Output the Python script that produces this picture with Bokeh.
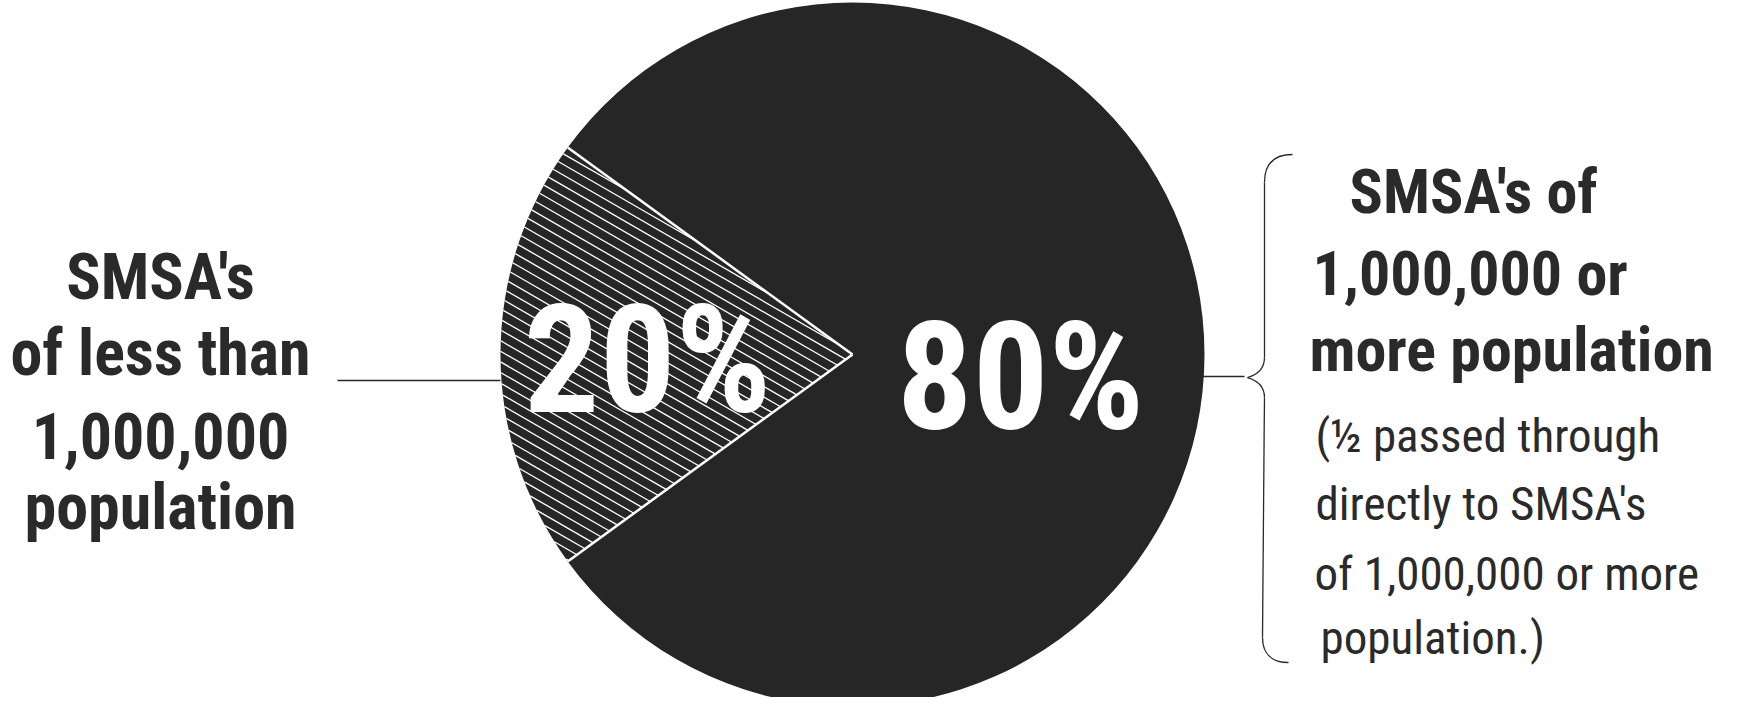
import numpy as np
from bokeh.plotting import figure
from bokeh.models import Range1d, ColumnDataSource
from bokeh.core.properties import value
from bokeh.embed import file_html
from bokeh.resources import INLINE

# ---- data ----
categories = ["SMSA's of less than 1,000,000 population",
              "SMSA's of 1,000,000 or more population"]
shares = [20, 80]
pct_labels = ["20%", "80%"]
left_label = ["SMSA's", "of less than", "1,000,000", "population"]
right_head = ["SMSA's of", "1,000,000 or", "more population"]
right_note = ["(½ passed through", "directly to SMSA's",
              "of 1,000,000 or more", "population.)"]

DARK = "#262626"
INK = "#2a2a2a"
W, H = 1726, 697
BL = 0.26  # baseline correction (fraction of font size)


def X(rx):
    return rx - 8


def Y(ry):
    return H - (ry - 8)


def YB(ry, fs):
    return Y(ry) + BL * fs


p = figure(width=W, height=H, x_range=Range1d(0, W), y_range=Range1d(0, H),
           min_border=0, toolbar_location=None, output_backend="svg",
           x_axis_location=None, y_axis_location=None)
p.grid.visible = False
p.outline_line_color = None

# ---- pie ----
cx, cy, r = X(860), Y(362), 352
vals = np.array(shares, dtype=float)
frac = vals / vals.sum()
offset = np.pi - frac[0] * np.pi
ends = offset + 2 * np.pi * np.cumsum(frac)
starts = ends - 2 * np.pi * frac
src = ColumnDataSource(dict(cat=categories, share=shares,
                            start=starts, end=ends))
p.wedge(x=cx, y=cy, radius=r, start_angle="start", end_angle="end",
        fill_color=DARK, line_color=None, source=src)

# hatch lines inside the small slice
a1, a2 = starts[0], ends[0]
u1 = np.array([np.cos(a1), np.sin(a1)])
u2 = np.array([np.cos(a2), np.sin(a2)])
th = np.deg2rad(-30)
d = np.array([np.cos(th), np.sin(th)])
n = np.array([-np.sin(th), np.cos(th)])


def cross(a, b):
    return a[0] * b[1] - a[1] * b[0]


x0s, y0s, x1s, y1s = [], [], [], []
for s in np.arange(-r + 4, r, 9.2):
    h = np.sqrt(r * r - s * s)
    lo, hi = -h, h
    base = s * n
    for (A, B) in [(cross(u1, base), cross(u1, d)),
                   (cross(base, u2), cross(d, u2))]:
        if abs(B) < 1e-12:
            if A < 0:
                lo, hi = 1, 0
            continue
        t = -A / B
        if B > 0:
            lo = max(lo, t)
        else:
            hi = min(hi, t)
    if hi - lo > 1:
        pa = base + lo * d
        pb = base + hi * d
        x0s.append(cx + pa[0]); y0s.append(cy + pa[1])
        x1s.append(cx + pb[0]); y1s.append(cy + pb[1])
p.segment(x0=x0s, y0=y0s, x1=x1s, y1=y1s, line_color="white",
          line_width=1.3)
p.segment(x0=[cx, cx], y0=[cy, cy],
          x1=[cx + r * u1[0], cx + r * u2[0]],
          y1=[cy + r * u1[1], cy + r * u2[1]],
          line_color="white", line_width=2.5)

# ---- leaders and brace ----
p.segment(x0=[X(345), X(1208)], y0=[Y(388), Y(384)],
          x1=[X(508), X(1252)], y1=[Y(388), Y(384)],
          line_color=INK, line_width=1.3)
bz = dict(
    x0=[1300, 1272, 1272, 1255, 1272, 1270],
    y0=[162, 190, 365, 385, 405, 645],
    x1=[1272, 1272, 1255, 1272, 1270, 1296],
    y1=[190, 365, 385, 405, 645, 670],
    cx0=[1280, 1272, 1272, 1262, 1271, 1270],
    cy0=[162, 250, 378, 387, 500, 660],
    cx1=[1272, 1272, 1262, 1272, 1270, 1278],
    cy1=[172, 300, 383, 392, 600, 670],
)
p.bezier(x0=[X(v) for v in bz["x0"]], y0=[Y(v) for v in bz["y0"]],
         x1=[X(v) for v in bz["x1"]], y1=[Y(v) for v in bz["y1"]],
         cx0=[X(v) for v in bz["cx0"]], cy0=[Y(v) for v in bz["cy0"]],
         cx1=[X(v) for v in bz["cx1"]], cy1=[Y(v) for v in bz["cy1"]],
         line_color=INK, line_width=1.3)

FONT = value("Roboto Condensed")

# percent labels
fs = 150
p.text(x=[X(655), X(1028)], y=[YB(407, fs), YB(424, fs)], text=pct_labels,
       text_font=FONT, text_font_style="bold",
       text_font_size=f"{fs}px", text_color="white",
       text_align="center", text_baseline="alphabetic")

# left label
fs = 64
p.text(x=[X(168)] * 4, y=[YB(v, fs) for v in [302, 378, 460, 532]],
       text=left_label, text_font=FONT, text_font_style="bold",
       text_font_size=f"{fs}px", text_color=INK, text_align="center",
       text_baseline="alphabetic")

# right heading
fs = 62
p.text(x=[X(v) for v in [1357, 1320, 1317]],
       y=[YB(v, fs) for v in [215, 297, 373]],
       text=right_head, text_font=FONT, text_font_style="bold",
       text_font_size=f"{fs}px", text_color=INK, text_align="left",
       text_baseline="alphabetic")

# right note
fs = 47
p.text(x=[X(v) for v in [1323, 1323, 1322, 1328]],
       y=[YB(v, fs) for v in [455, 523, 593, 657]],
       text=right_note, text_font=FONT,
       text_font_size=f"{fs}px", text_color=INK, text_align="left",
       text_baseline="alphabetic")

open("out.html", "w").write(file_html(p, INLINE))
